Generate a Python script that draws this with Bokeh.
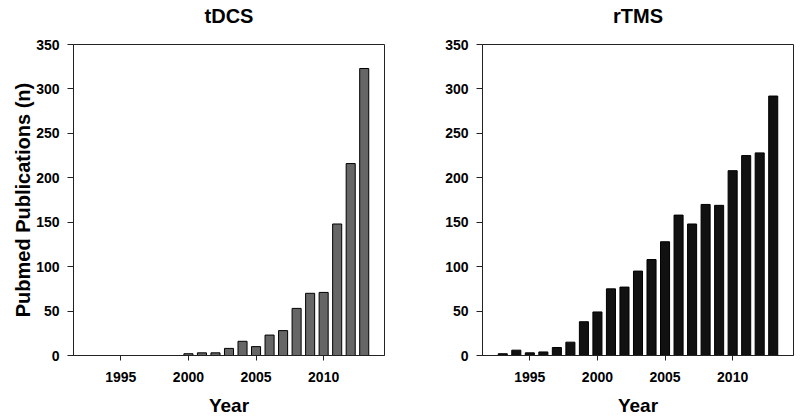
from bokeh.plotting import figure
from bokeh.layouts import row
from bokeh.models import Range1d, FixedTicker, ColumnDataSource, Title
from bokeh.embed import file_html
from bokeh.resources import INLINE

# tDCS publications per year
tdcs_years = [2000, 2001, 2002, 2003, 2004, 2005, 2006, 2007, 2008, 2009, 2010, 2011, 2012, 2013]
tdcs_counts = [2, 3, 3, 8, 16, 10, 23, 28, 53, 70, 71, 148, 216, 323]

# rTMS publications per year
rtms_years = [1993, 1994, 1995, 1996, 1997, 1998, 1999, 2000, 2001, 2002, 2003,
              2004, 2005, 2006, 2007, 2008, 2009, 2010, 2011, 2012, 2013]
rtms_counts = [2, 6, 3, 4, 9, 15, 38, 49, 75, 77, 95, 108, 128, 158, 148, 170,
               169, 208, 225, 228, 292]

x_ticks = [1995, 2000, 2005, 2010]
y_ticks = [0, 50, 100, 150, 200, 250, 300, 350]

FONT = "Liberation Sans"
X0, X1 = 1991.5, 2014.5
Y0, Y1 = 0, 350
FRAME = 311


def make_panel(title, years, counts, fill, left_border, right_border, ylabel):
    p = figure(
        output_backend="svg", toolbar_location=None,
        frame_width=FRAME, frame_height=FRAME,
        min_border_left=left_border, min_border_right=right_border,
        min_border_top=44, min_border_bottom=64,
        x_range=Range1d(X0, X1), y_range=Range1d(Y0, Y1),
    )
    src = ColumnDataSource(dict(x=years, top=counts))
    p.vbar(x="x", top="top", width=0.67, bottom=0, source=src,
           fill_color=fill, line_color="black", line_width=1)

    # blank spacer title keeps the real title a bit higher above the frame
    p.add_layout(Title(text=" ", text_font_size="14px", standoff=0), "above")
    p.add_layout(Title(text=title, align="center", text_font=FONT,
                       text_font_size="20px", text_font_style="bold",
                       text_color="black", standoff=0), "above")

    p.xgrid.visible = False
    p.ygrid.visible = False
    p.outline_line_color = "#222222"
    p.outline_line_width = 1
    p.background_fill_color = "white"
    p.border_fill_color = "white"

    p.xaxis.ticker = FixedTicker(ticks=x_ticks)
    p.yaxis.ticker = FixedTicker(ticks=y_ticks)
    for ax in (p.xaxis[0], p.yaxis[0]):
        ax.axis_line_color = "#222222"
        ax.major_tick_line_color = "#222222"
        ax.minor_tick_line_color = None
        ax.major_tick_in = 0
        ax.major_label_text_font = FONT
        ax.major_label_text_font_size = "14px"
        ax.major_label_text_font_style = "bold"
        ax.major_label_text_color = "black"
        ax.axis_label_text_font = FONT
        ax.axis_label_text_font_style = "bold"
        ax.axis_label_text_color = "black"
    p.xaxis.major_tick_out = 5
    p.yaxis.major_tick_out = 6
    p.xaxis.major_label_standoff = 11
    p.yaxis.major_label_standoff = 8

    p.xaxis.axis_label = "Year"
    p.xaxis.axis_label_text_font_size = "19px"
    p.xaxis.axis_label_standoff = 10
    if ylabel:
        p.yaxis.axis_label = ylabel
        p.yaxis.axis_label_text_font_size = "20px"
        p.yaxis.axis_label_standoff = -1
    return p


p1 = make_panel("tDCS", tdcs_years, tdcs_counts, "#666666", 73, 24,
                "Pubmed Publications (n)")
p2 = make_panel("rTMS", rtms_years, rtms_counts, "#111111", 74, 7, None)

layout = row(p1, p2)
open("out.html", "w").write(file_html(layout, INLINE))
